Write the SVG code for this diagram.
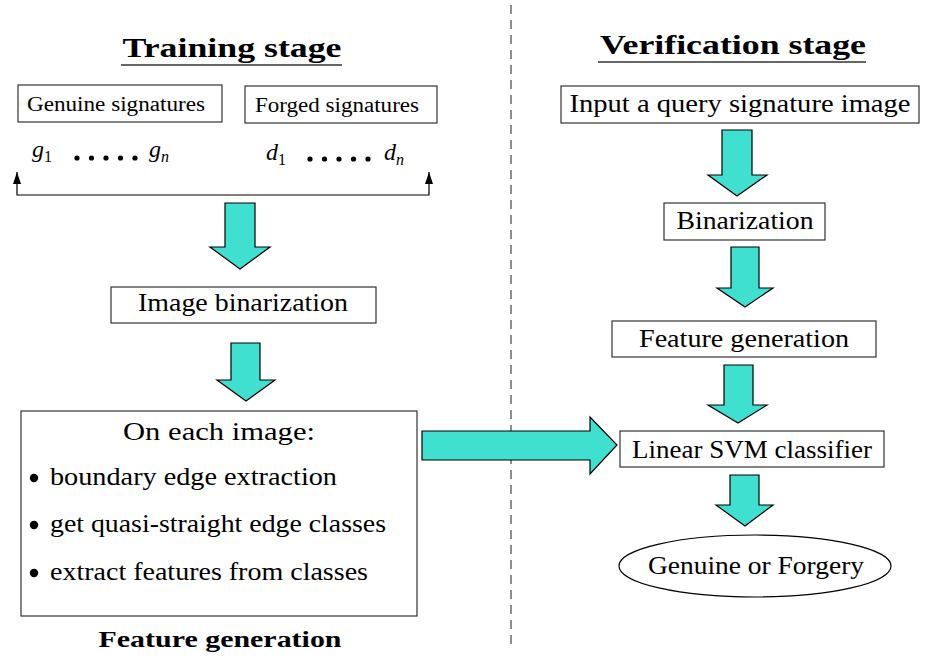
<svg xmlns="http://www.w3.org/2000/svg" width="925" height="657" viewBox="0 0 925 657">
<defs>
<style>
.t{font-family:"Liberation Serif","DejaVu Serif","Times New Roman",serif;fill:#000}
.b{font-weight:bold}
.box{fill:#fff;stroke:#333;stroke-width:1.2}
.fat{fill:#40E0D0;stroke:#000;stroke-width:1.2;stroke-linejoin:miter}
.ln{stroke:#000;stroke-width:1.2;fill:none}
</style>
<marker id="ah" markerWidth="13" markerHeight="8" refX="12" refY="4" orient="auto-start-reverse" markerUnits="userSpaceOnUse" viewBox="0 0 13 8">
<path d="M0,0 L12,4 L0,8 Z" fill="#000"/>
</marker>
</defs>
<rect width="925" height="657" fill="#fff"/>

<line x1="511" y1="5" x2="511" y2="645" stroke="#444" stroke-width="1.2" stroke-dasharray="9,6"/>

<g id="training-title">
<text class="t b" x="232" y="57" font-size="28" text-anchor="middle" textLength="219" lengthAdjust="spacingAndGlyphs" font-family="Liberation Serif, DejaVu Serif, serif">Training stage</text>
<line x1="121" y1="65" x2="342" y2="65" stroke="#333" stroke-width="1.5"/>
</g>
<g id="verification-title">
<text class="t b" x="733" y="54" font-size="28" text-anchor="middle" textLength="266" lengthAdjust="spacingAndGlyphs" font-family="Liberation Serif, DejaVu Serif, serif">Verification stage</text>
<line x1="598" y1="62" x2="866" y2="62" stroke="#333" stroke-width="1.5"/>
</g>

<g id="genuine">
<rect class="box" x="18" y="85" width="204" height="37"/>
<text class="t" x="116" y="111" font-size="20" text-anchor="middle" textLength="178" lengthAdjust="spacingAndGlyphs" font-family="Liberation Serif, DejaVu Serif, serif">Genuine signatures</text>
</g>
<g id="forged">
<rect class="box" x="245" y="86" width="192" height="37"/>
<text class="t" x="337" y="112" font-size="20" text-anchor="middle" textLength="164" lengthAdjust="spacingAndGlyphs" font-family="Liberation Serif, DejaVu Serif, serif">Forged signatures</text>
</g>

<g id="samples" font-family="Liberation Serif, DejaVu Serif, serif">
<text class="t" x="32" y="157" font-size="24" font-style="italic" font-family="Liberation Serif, DejaVu Serif, serif">g<tspan font-size="16" font-style="normal" dy="5">1</tspan></text>
<g fill="#000"><circle cx="77" cy="158" r="2.6"/><circle cx="91.5" cy="158" r="2.6"/><circle cx="106" cy="158" r="2.6"/><circle cx="120.5" cy="158" r="2.6"/><circle cx="135" cy="158" r="2.6"/></g>
<text class="t" x="149" y="157" font-size="24" font-style="italic" font-family="Liberation Serif, DejaVu Serif, serif">g<tspan font-size="16" dy="5">n</tspan></text>
<text class="t" x="266" y="160" font-size="24" font-style="italic" font-family="Liberation Serif, DejaVu Serif, serif">d<tspan font-size="16" font-style="normal" dy="5">1</tspan></text>
<g fill="#000"><circle cx="310" cy="159" r="2.6"/><circle cx="324.5" cy="159" r="2.6"/><circle cx="339" cy="159" r="2.6"/><circle cx="353.5" cy="159" r="2.6"/><circle cx="368" cy="159" r="2.6"/></g>
<text class="t" x="384" y="160" font-size="24" font-style="italic" font-family="Liberation Serif, DejaVu Serif, serif">d<tspan font-size="16" dy="5">n</tspan></text>
</g>

<g id="connectors">
<path class="ln" d="M17,172 L17,195 L429,195 L429,172" marker-start="url(#ah)" marker-end="url(#ah)"/>
<path class="fat" d="M225,203 L255,203 L255,247 L270,247 L240,269 L210,247 L225,247 Z"/>
<path class="fat" d="M231,343 L260,343 L260,380 L275,380 L246,401 L217,380 L231,380 Z"/>
<path class="fat" d="M422,431 L590,431 L590,417 L617,445 L590,474 L590,460 L422,460 Z"/>
<path class="fat" d="M722,130 L752,130 L752,175 L767,175 L737,196 L708,175 L722,175 Z"/>
<path class="fat" d="M731,247 L759,247 L759,288 L773,288 L745,307 L717,288 L731,288 Z"/>
<path class="fat" d="M724,365 L753,365 L753,405 L767,405 L738,423 L708,405 L724,405 Z"/>
<path class="fat" d="M730,475 L759,475 L759,505 L773,505 L745,526 L716,505 L730,505 Z"/>
</g>

<g id="image-binarization">
<rect class="box" x="111" y="287" width="265" height="36"/>
<text class="t" x="243" y="311" font-size="25" text-anchor="middle" textLength="210" lengthAdjust="spacingAndGlyphs" font-family="Liberation Serif, DejaVu Serif, serif">Image binarization</text>
</g>

<g id="feature-box" font-family="Liberation Serif, DejaVu Serif, serif">
<rect class="box" x="21" y="411" width="396" height="205"/>
<text class="t" x="219" y="440" font-size="25" text-anchor="middle" textLength="192" lengthAdjust="spacingAndGlyphs" font-family="Liberation Serif, DejaVu Serif, serif">On each image:</text>
<circle cx="34" cy="478" r="4.2" fill="#000"/>
<text class="t" x="50" y="485" font-size="25" textLength="287" lengthAdjust="spacingAndGlyphs" font-family="Liberation Serif, DejaVu Serif, serif">boundary edge extraction</text>
<circle cx="34" cy="525" r="4.2" fill="#000"/>
<text class="t" x="50" y="532" font-size="25" textLength="336" lengthAdjust="spacingAndGlyphs" font-family="Liberation Serif, DejaVu Serif, serif">get quasi-straight edge classes</text>
<circle cx="34" cy="573" r="4.2" fill="#000"/>
<text class="t" x="50" y="580" font-size="25" textLength="318" lengthAdjust="spacingAndGlyphs" font-family="Liberation Serif, DejaVu Serif, serif">extract features from classes</text>
</g>
<g id="feature-label">
<text class="t b" x="220" y="647" font-size="24" text-anchor="middle" textLength="243" lengthAdjust="spacingAndGlyphs" font-family="Liberation Serif, DejaVu Serif, serif">Feature generation</text>
</g>

<g id="input">
<rect class="box" x="561" y="86" width="358" height="37"/>
<text class="t" x="740" y="112" font-size="25" text-anchor="middle" textLength="341" lengthAdjust="spacingAndGlyphs" font-family="Liberation Serif, DejaVu Serif, serif">Input a query signature image</text>
</g>
<g id="binarization">
<rect class="box" x="664" y="203" width="161" height="37"/>
<text class="t" x="745" y="229" font-size="25" text-anchor="middle" textLength="137" lengthAdjust="spacingAndGlyphs" font-family="Liberation Serif, DejaVu Serif, serif">Binarization</text>
</g>
<g id="feature-generation">
<rect class="box" x="612" y="321" width="264" height="36"/>
<text class="t" x="744" y="347" font-size="25" text-anchor="middle" textLength="210" lengthAdjust="spacingAndGlyphs" font-family="Liberation Serif, DejaVu Serif, serif">Feature generation</text>
</g>
<g id="svm">
<rect class="box" x="620" y="431" width="264" height="36"/>
<text class="t" x="752" y="458" font-size="25" text-anchor="middle" textLength="240" lengthAdjust="spacingAndGlyphs" font-family="Liberation Serif, DejaVu Serif, serif">Linear SVM classifier</text>
</g>
<g id="result">
<ellipse cx="755" cy="566" rx="136" ry="31" fill="#fff" stroke="#000" stroke-width="1.2"/>
<text class="t" x="756" y="574" font-size="25" text-anchor="middle" textLength="216" lengthAdjust="spacingAndGlyphs" font-family="Liberation Serif, DejaVu Serif, serif">Genuine or Forgery</text>
</g>
</svg>
